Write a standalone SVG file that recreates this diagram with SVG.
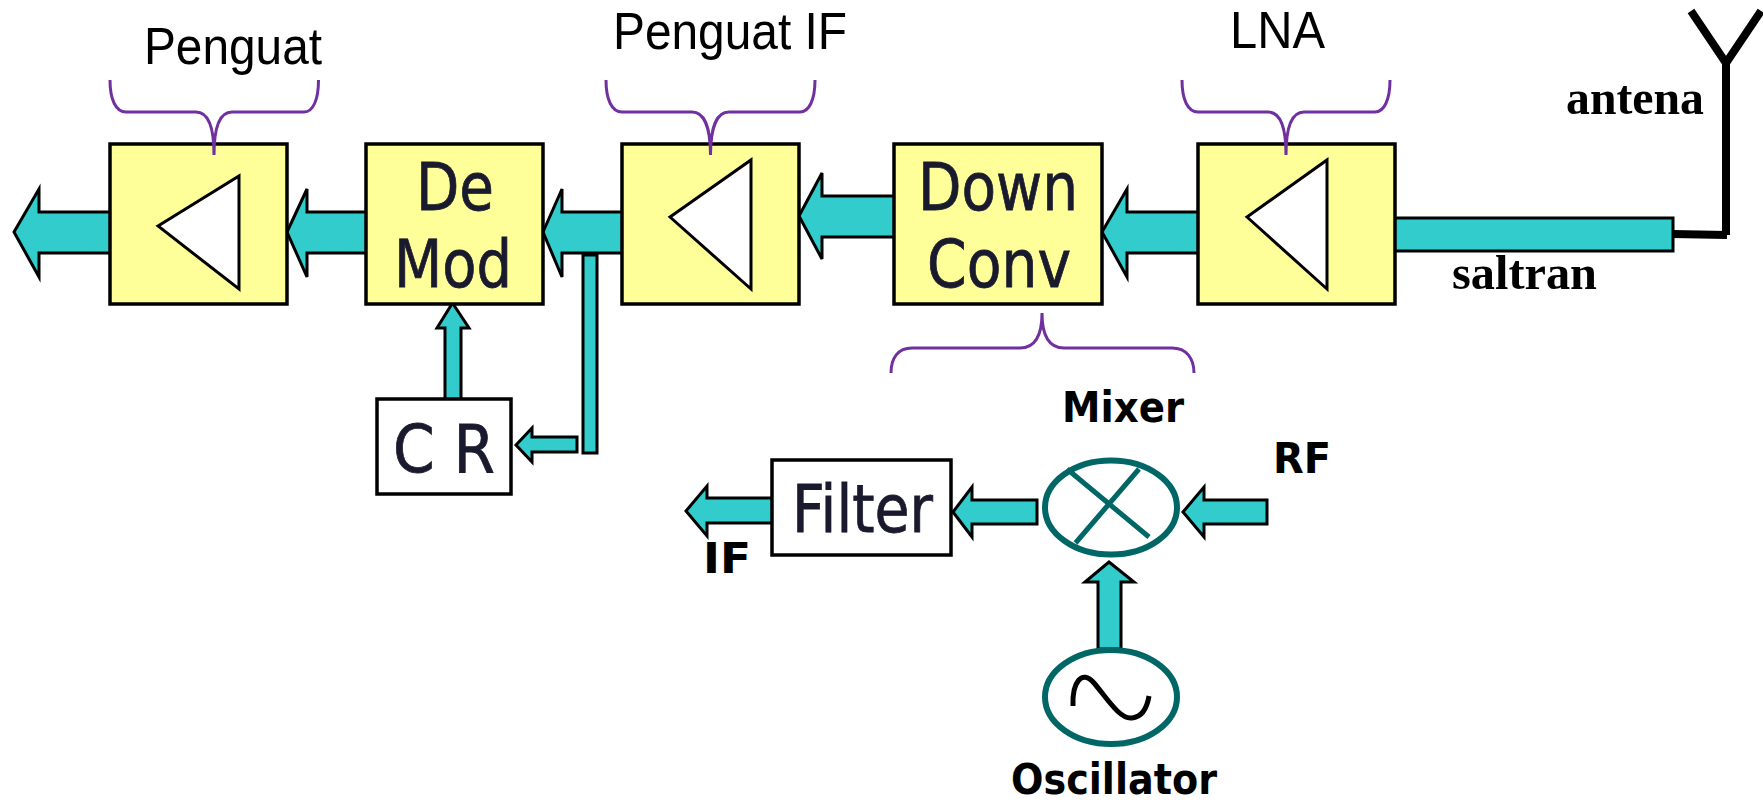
<svg xmlns="http://www.w3.org/2000/svg" width="1763" height="804" viewBox="0 0 1763 804">
<style>
.box{fill:#FFFF99;stroke:#000;stroke-width:3.5}
.wbox{fill:#fff;stroke:#000;stroke-width:3.5}
.tri{fill:#fff;stroke:#000;stroke-width:3;stroke-linejoin:miter}
.arr{fill:#33CCCC;stroke:#000;stroke-width:3;stroke-linejoin:miter}
.brace{fill:none;stroke:#7030A0;stroke-width:3}
.circ{fill:#fff;stroke:#006666;stroke-width:6}
.cross{fill:none;stroke:#006666;stroke-width:5}
.ant{fill:none;stroke:#000;stroke-width:8}
.big{font-family:"DejaVu Sans",sans-serif;font-size:65px;fill:#1A1A2E;stroke:#1A1A2E;stroke-width:.8}
.lab{font-family:"Liberation Sans",Arial,sans-serif;font-size:52px;fill:#000}
.bd{font-family:"DejaVu Sans",sans-serif;font-weight:bold;font-size:43px;fill:#000}
.ser{font-family:"Liberation Serif",serif;font-weight:bold;font-size:49px;fill:#000}
</style>
<rect width="1763" height="804" fill="#fff"/>
<g id="connectors">
<path class="arr" d="M14 232L39 189V212H112V253H39V277Z"/>
<path class="arr" d="M287 232L307 189V212H368V253H307V277Z"/>
<path class="arr" d="M543 232L562 189V212H624V253H562V277Z"/>
<path class="arr" d="M799 216L822 173V196H896V237H822V259Z"/>
<path class="arr" d="M1102 232L1127 189V212H1200V253H1127V277Z"/>
<rect class="arr" x="1393" y="218" width="280" height="33"/>
<rect class="arr" x="583" y="255" width="14" height="198"/>
<path class="arr" d="M516 445L532 428V437H577V452H532V462Z"/>
<path class="arr" d="M452.500 303L469 328H461V401H445V328H437Z"/>
<path class="arr" d="M686 511L707 486V498H773V523H707V536Z"/>
<path class="arr" d="M953 512L972 487V500H1037V524H972V537Z"/>
<path class="arr" d="M1183 512L1204 487V500H1267V524H1204V537Z"/>
<path class="arr" d="M1109 562L1134 582H1121V649H1098V582H1085Z"/>
</g>
<g id="penguat"><rect class="box" x="110" y="144" width="177" height="160"/><path class="tri" d="M158 226L239 176V289Z"/></g>
<g id="demod"><rect class="box" x="366" y="144" width="177" height="160"/><text class="big" x="416" y="210" textLength="78" lengthAdjust="spacingAndGlyphs">De</text><text class="big" x="394" y="287" textLength="118" lengthAdjust="spacingAndGlyphs">Mod</text></g>
<g id="penguat-if"><rect class="box" x="622" y="144" width="177" height="160"/><path class="tri" d="M670 217L751 160V289Z"/></g>
<g id="downconv"><rect class="box" x="894" y="144" width="208" height="160"/><text class="big" x="918" y="210" textLength="160" lengthAdjust="spacingAndGlyphs">Down</text><text class="big" x="927" y="287" textLength="144" lengthAdjust="spacingAndGlyphs">Conv</text></g>
<g id="lna"><rect class="box" x="1198" y="144" width="197" height="160"/><path class="tri" d="M1247 217L1327 160V289Z"/></g>
<g id="cr"><rect class="wbox" x="377" y="399" width="134" height="95"/><text class="big" x="393" y="472" textLength="102" lengthAdjust="spacingAndGlyphs">C R</text></g>
<g id="filter"><rect class="wbox" x="772" y="460" width="179" height="95"/><text class="big" x="792" y="532" textLength="141" lengthAdjust="spacingAndGlyphs">Filter</text></g>
<g id="mixer"><ellipse class="circ" cx="1111" cy="507.500" rx="66" ry="47"/><path class="cross" d="M1067 469L1149 537M1139 469L1075.500 543"/></g>
<g id="oscillator"><ellipse class="circ" cx="1111" cy="697" rx="66" ry="47"/><path class="cross" style="stroke:#000" d="M1073 706C1072 682 1082 669 1094 683C1106 697 1120 720 1132 718C1142 717 1147 708 1149 696"/></g>
<g id="antenna"><path class="ant" d="M1673 234L1727 235M1726 235V58M1691 11L1726 63L1761 11"/></g>
<g id="braces">
<path class="brace" d="M110 80C110 100 116 112 126 112H196C207 112 214 125 214 155C214 125 221 112 232 112H304C313 112 318.500 100 318.500 80"/>
<path class="brace" d="M606 80C606 100 612 112 622 112H692C703 112 710.500 125 710.500 155C710.500 125 718 112 729 112H800C809 112 815 100 815 80"/>
<path class="brace" d="M1182 80C1182 100 1188 112 1198 112H1268C1279 112 1286 125 1286 155C1286 125 1293 112 1304 112H1375C1384 112 1390 100 1390 80"/>
<path class="brace" d="M891 373C891 358 898 348 912 348H1020C1032 348 1042 340 1042 313C1042 340 1052 348 1064 348H1172C1186 348 1194 358 1194 373"/>
</g>
<g id="labels">
<text class="lab" x="144" y="64" textLength="178" lengthAdjust="spacingAndGlyphs">Penguat</text>
<text class="lab" x="613" y="49" textLength="234" lengthAdjust="spacingAndGlyphs">Penguat IF</text>
<text class="lab" x="1230" y="48" textLength="95" lengthAdjust="spacingAndGlyphs">LNA</text>
<text class="ser" x="1566" y="114" textLength="138" lengthAdjust="spacingAndGlyphs">antena</text>
<text class="ser" x="1452" y="289" textLength="145" lengthAdjust="spacingAndGlyphs">saltran</text>
<text class="bd" x="1062" y="422" textLength="122" lengthAdjust="spacingAndGlyphs">Mixer</text>
<text class="bd" x="1273" y="473" textLength="58" lengthAdjust="spacingAndGlyphs">RF</text>
<text class="bd" x="703" y="573" textLength="48" lengthAdjust="spacingAndGlyphs">IF</text>
<text class="bd" x="1011" y="793.500" textLength="206" lengthAdjust="spacingAndGlyphs">Oscillator</text>
</g>
</svg>
